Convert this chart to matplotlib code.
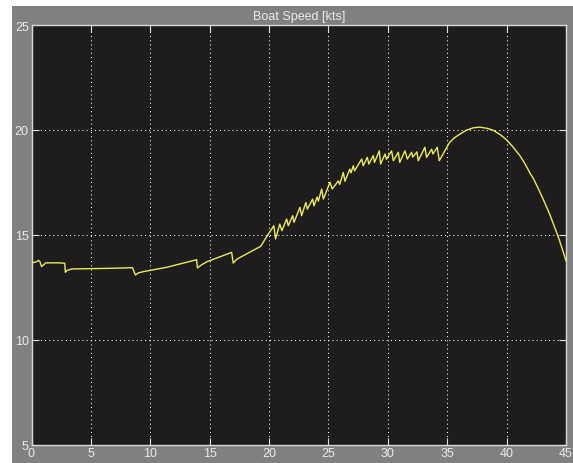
import matplotlib
matplotlib.use('Agg')
import matplotlib.pyplot as plt
from matplotlib.patches import Rectangle

# ======== Data: boat speed trace ========
time_s = [
    0.0, 0.45, 0.6, 0.72, 0.85, 1.2, 2.4, 2.8, 2.85, 3.0, 3.4, 6.7, 8.5, 8.75,
    9.0, 9.4, 11.4, 13.9, 13.97, 14.3, 14.75, 16.85, 16.98, 17.3, 19.3, 19.9,
    20.4, 20.55, 20.9, 21.08, 21.48, 21.62, 21.99, 22.1, 22.6, 22.74, 23.1,
    23.22, 23.67, 23.78, 24.05, 24.15, 24.43, 24.57, 25.13, 25.32, 25.83,
    25.95, 26.25, 26.39, 26.8, 26.9, 27.09, 27.2, 27.8, 27.93, 28.27, 28.4,
    28.77, 28.88, 29.28, 29.39, 29.76, 29.88, 30.32, 30.46, 30.88, 31.0,
    31.44, 31.64, 32.0, 32.1, 32.45, 32.56, 33.12, 33.26, 33.69, 33.8, 34.16,
    34.33, 34.8, 35.2, 35.6, 36.07, 36.6, 37.2, 37.75, 38.4, 38.9, 39.5,
    40.0, 40.5, 41.12, 41.5, 41.96, 42.3, 42.8, 43.2, 43.65, 44.0, 44.35,
    44.7, 45.0,
]
speed_kts = [
    13.65, 13.72, 13.78, 13.70, 13.48, 13.66, 13.66, 13.64, 13.21, 13.30,
    13.37, 13.40, 13.43, 13.08, 13.18, 13.24, 13.45, 13.81, 13.42, 13.56,
    13.71, 14.16, 13.65, 13.84, 14.45, 15.00, 15.43, 14.80, 15.51, 15.19,
    15.75, 15.43, 15.91, 15.59, 16.31, 15.91, 16.54, 16.22, 16.70, 16.38,
    16.80, 16.60, 17.18, 16.70, 17.50, 17.18, 17.57, 17.40, 17.97, 17.55,
    18.13, 17.95, 18.29, 18.05, 18.61, 18.29, 18.69, 18.37, 18.77, 18.45,
    19.00, 18.37, 18.85, 18.60, 19.00, 18.53, 18.93, 18.45, 19.00, 18.61,
    18.93, 18.70, 18.95, 18.53, 19.17, 18.69, 19.08, 18.85, 19.17, 18.53,
    19.00, 19.40, 19.62, 19.80, 19.98, 20.10, 20.13, 20.07, 19.97, 19.76,
    19.52, 19.21, 18.77, 18.43, 17.95, 17.63, 17.04, 16.54, 15.95, 15.42,
    14.90, 14.30, 13.76,
]

x_ticks = [0, 5, 10, 15, 20, 25, 30, 35, 40, 45]
y_ticks = [5, 10, 15, 20, 25]

# ======== Figure / scope styling ========
plt.rcParams['font.family'] = ['Liberation Sans Narrow', 'Liberation Sans', 'DejaVu Sans']

PANEL = '#808080'
SCREEN = '#1e1c1c'
TEXT = '#ececec'

fig = plt.figure(figsize=(5.73, 4.64), dpi=100, facecolor='white')
fig.patches.append(Rectangle((12 / 573, 0), 1, 1 - 7 / 464,
                             transform=fig.transFigure, facecolor=PANEL,
                             edgecolor='none', zorder=-3))

ax = fig.add_axes([31.5 / 573, 1 - 445.5 / 464, (566 - 31.5) / 573, (445.5 - 26) / 464])
ax.set_facecolor(SCREEN)

ax.plot(time_s, speed_kts, color='#ecec5a', lw=1.0, zorder=3)

ax.set_xlim(0, 45)
ax.set_ylim(5, 25)
ax.set_xticks(x_ticks)
ax.set_yticks(y_ticks)

ax.grid(True, color='white', linestyle=(0, (1, 3)), linewidth=0.75, zorder=1)
ax.tick_params(direction='in', length=5, width=0.8, top=True, right=True,
               color='#e0e0e0', labelcolor=TEXT, labelsize=9, pad=2)
for sp in ax.spines.values():
    sp.set_color('#d8d8d8')
    sp.set_linewidth(1.0)

ax.set_title('Boat Speed [kts]', color=TEXT, fontsize=9, pad=4)

fig.savefig('out.png', dpi=100, facecolor=fig.get_facecolor())
